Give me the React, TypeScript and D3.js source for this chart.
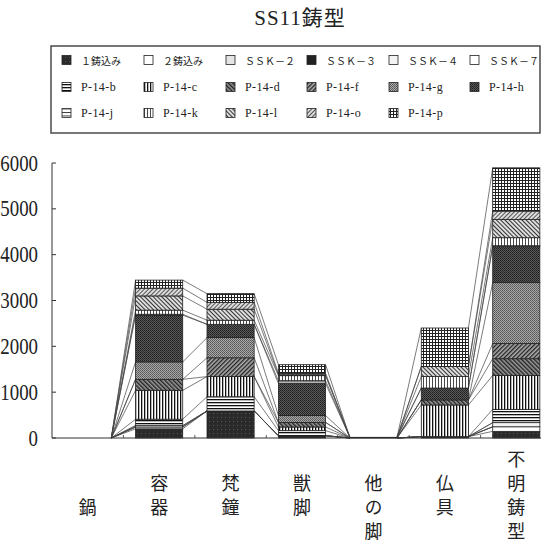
import React from 'react';
import * as d3 from 'd3';

const categories = ['鍋', '容器', '梵鐘', '獣脚', '他の脚', '仏具', '不明鋳型'];
const seriesNames = ['１鋳込み', '２鋳込み', 'ＳＳＫ－２', 'ＳＳＫ－３', 'ＳＳＫ－４', 'ＳＳＫ－７',
  'P-14-b', 'P-14-c', 'P-14-d', 'P-14-f', 'P-14-g', 'P-14-h', 'P-14-j', 'P-14-k', 'P-14-l', 'P-14-o', 'P-14-p'];
const s1 = [0, 200, 590, 50, 0, 30, 145];
const s2 = [0, 40, 0, 0, 0, 0, 100];
const ssk2 = [0, 0, 0, 0, 0, 0, 0];
const ssk3 = [0, 0, 0, 0, 0, 0, 0];
const ssk4 = [0, 30, 0, 0, 0, 0, 90];
const ssk7 = [0, 0, 0, 0, 0, 0, 0];
const p14b = [0, 140, 310, 110, 0, 0, 290];
const p14c = [0, 630, 440, 80, 0, 690, 740];
const p14d = [0, 240, 0, 100, 0, 110, 365];
const p14f = [0, 0, 410, 0, 0, 0, 330];
const p14g = [0, 380, 440, 150, 0, 0, 1330];
const p14h = [0, 1020, 290, 700, 15, 260, 785];
const p14j = [0, 20, 0, 60, 0, 0, 20];
const p14k = [0, 90, 90, 110, 0, 250, 175];
const p14l = [0, 310, 240, 20, 0, 220, 400];
const p14o = [0, 170, 150, 30, 0, 0, 180];
const p14p = [0, 175, 190, 190, 0, 840, 945];
const seriesValues = [s1, s2, ssk2, ssk3, ssk4, ssk7, p14b, p14c, p14d, p14f, p14g, p14h, p14j, p14k, p14l, p14o, p14p];
const yTicks = [0, 1000, 2000, 3000, 4000, 5000, 6000];

const patternIds = ['solidDark', 'white', 'lightGrey', 'solidDark2', 'veryLight', 'white2',
  'hb', 'vc', 'dd', 'df', 'gg', 'hh', 'hj', 'vk', 'dl', 'do', 'gp'];

function Patterns() {
  return (
    <defs>
      <pattern id="solidDark" width="4" height="4" patternUnits="userSpaceOnUse">
        <rect width="4" height="4" fill="#2a2a2a" />
        <rect x="1" y="1" width="1" height="1" fill="#555" />
      </pattern>
      <pattern id="solidDark2" width="4" height="4" patternUnits="userSpaceOnUse">
        <rect width="4" height="4" fill="#222" />
      </pattern>
      <pattern id="white" width="4" height="4" patternUnits="userSpaceOnUse">
        <rect width="4" height="4" fill="#fff" />
      </pattern>
      <pattern id="white2" width="4" height="4" patternUnits="userSpaceOnUse">
        <rect width="4" height="4" fill="#fff" />
      </pattern>
      <pattern id="lightGrey" width="4" height="4" patternUnits="userSpaceOnUse">
        <rect width="4" height="4" fill="#e4e4e4" />
      </pattern>
      <pattern id="veryLight" width="4" height="4" patternUnits="userSpaceOnUse">
        <rect width="4" height="4" fill="#f3f3f3" />
      </pattern>
      <pattern id="hb" width="4" height="3" patternUnits="userSpaceOnUse">
        <rect width="4" height="3" fill="#fff" />
        <rect y="0" width="4" height="1.3" fill="#111" />
      </pattern>
      <pattern id="hj" width="4" height="3.5" patternUnits="userSpaceOnUse">
        <rect width="4" height="3.5" fill="#fff" />
        <rect y="0" width="4" height="0.9" fill="#333" />
      </pattern>
      <pattern id="vc" width="3" height="4" patternUnits="userSpaceOnUse">
        <rect width="3" height="4" fill="#fff" />
        <rect x="0" width="1.3" height="4" fill="#111" />
      </pattern>
      <pattern id="vk" width="3" height="4" patternUnits="userSpaceOnUse">
        <rect width="3" height="4" fill="#fff" />
        <rect x="0" width="0.9" height="4" fill="#333" />
      </pattern>
      <pattern id="dd" width="3" height="3" patternUnits="userSpaceOnUse" patternTransform="rotate(-45)">
        <rect width="3" height="3" fill="#999" />
        <rect width="1.4" height="3" fill="#222" />
      </pattern>
      <pattern id="df" width="3" height="3" patternUnits="userSpaceOnUse" patternTransform="rotate(45)">
        <rect width="3" height="3" fill="#aaa" />
        <rect width="1.3" height="3" fill="#222" />
      </pattern>
      <pattern id="dl" width="3" height="3" patternUnits="userSpaceOnUse" patternTransform="rotate(-45)">
        <rect width="3" height="3" fill="#ddd" />
        <rect width="1" height="3" fill="#333" />
      </pattern>
      <pattern id="do" width="3" height="3" patternUnits="userSpaceOnUse" patternTransform="rotate(45)">
        <rect width="3" height="3" fill="#ddd" />
        <rect width="0.9" height="3" fill="#444" />
      </pattern>
      <pattern id="gg" width="2" height="2" patternUnits="userSpaceOnUse">
        <rect width="2" height="2" fill="#a8a8a8" />
        <rect width="1" height="1" fill="#555" />
        <rect x="1" y="1" width="1" height="1" fill="#666" />
      </pattern>
      <pattern id="hh" width="2" height="2" patternUnits="userSpaceOnUse">
        <rect width="2" height="2" fill="#5a5a5a" />
        <rect width="1" height="1" fill="#1e1e1e" />
        <rect x="1" y="1" width="1" height="1" fill="#2a2a2a" />
      </pattern>
      <pattern id="gp" width="3" height="3" patternUnits="userSpaceOnUse">
        <rect width="3" height="3" fill="#fff" />
        <rect width="3" height="1" fill="#222" />
        <rect width="1" height="3" fill="#222" />
      </pattern>
    </defs>
  );
}

export default function App() {
  const W = 546, H = 540;
  const x = d3.scaleBand<string>().domain(categories).range([52, 552]).paddingInner(0.34).paddingOuter(0.17);
  const y = d3.scaleLinear().domain([0, 6000]).range([438, 163]);

  const table = categories.map((c, i) => {
    const row: any = { cat: c };
    seriesNames.forEach((s, k) => { row[s] = seriesValues[k][i]; });
    return row;
  });
  const stacked = d3.stack().keys(seriesNames)(table);

  const bw = x.bandwidth();
  const step = x.step();
  const x0 = 52;

  const lines: any[] = [];
  for (let i = 0; i < categories.length - 1; i++) {
    const xa = (x(categories[i]) as number) + bw;
    const xb = x(categories[i + 1]) as number;
    stacked.forEach((layer, k) => {
      lines.push({ key: `${i}-${k}`, x1: xa, y1: y(layer[i][1]), x2: xb, y2: y(layer[i + 1][1]) });
    });
  }

  const legendCols = [62, 144, 226, 307, 389, 470];
  const legendRows = [60, 87, 113];

  const fs = 18;
  const pitch = 24;
  const catLabel = (c: string) => {
    const n = Array.from(c).length;
    const firstCenter = 507 - Math.ceil((n - 1) / 2) * pitch;
    const cx = (x(c) as number) + bw / 2;
    const ys = Array.from(c).map((_, j) => firstCenter + j * pitch - fs / 2);
    return (
      <text x={cx} y={ys.join(' ')} fontSize={fs}
        style={{ writingMode: 'vertical-rl' as any }}
        fontFamily="'Noto Sans CJK JP', sans-serif" fill="#222">{c}</text>
    );
  };

  return (
    <svg width={W} height={H} style={{ position: 'absolute', left: 0, top: 0, background: '#fff' }}
      fontFamily="'Liberation Serif', 'Noto Sans CJK JP', serif">
      <Patterns />
      <rect width={W} height={H} fill="#fff" />
      <text x={300} y={25} textAnchor="middle" fontSize={21} letterSpacing={1} fill="#222"
        fontFamily="'Liberation Serif', 'Noto Sans CJK JP', serif">SS11鋳型</text>

      <rect x={51} y={46} width={489} height={87} fill="#fff" stroke="#555" strokeWidth={1.6} />
      {seriesNames.map((s, k) => {
        const col = k % 6;
        const row = Math.floor(k / 6);
        const lx = legendCols[col];
        const ly = legendRows[row];
        const isCJK = k < 6;
        return (
          <g key={s}>
            <rect x={lx} y={ly - 4.5} width={9} height={9} fill={`url(#${patternIds[k]})`} stroke="#222" strokeWidth={0.8} />
            <text x={lx + 19} y={ly} dominantBaseline="central" fontSize={isCJK ? 10 : 12}
              letterSpacing={isCJK ? 0 : 0.4}
              fontFamily={isCJK ? "'Noto Sans CJK JP', sans-serif" : "'Liberation Serif', serif"} fill="#222">{s}</text>
          </g>
        );
      })}

      <line x1={x0} y1={y(6000)} x2={x0} y2={y(0)} stroke="#333" strokeWidth={1} />
      {yTicks.map(t => (
        <g key={t}>
          <line x1={x0} x2={x0 + 4} y1={y(t)} y2={y(t)} stroke="#333" strokeWidth={1} />
          <text x={38} y={y(t)} textAnchor="end" dominantBaseline="central" fontSize={23}
            transform={`translate(38,0) scale(0.82,1) translate(-38,0)`}
            fontFamily="'Liberation Serif', serif" fill="#222">{t}</text>
        </g>
      ))}

      {lines.map(l => (
        <line key={l.key} x1={l.x1} y1={l.y1} x2={l.x2} y2={l.y2} stroke="#444" strokeWidth={0.7} />
      ))}

      {stacked.map((layer, k) => (
        <g key={layer.key}>
          {layer.map((d, i) => {
            const h = y(d[0]) - y(d[1]);
            if (h <= 0) return null;
            return (
              <rect key={i} x={x(categories[i]) as number} y={y(d[1])} width={bw} height={h}
                fill={`url(#${patternIds[k]})`} stroke="#222" strokeWidth={0.8} />
            );
          })}
        </g>
      ))}

      <line x1={x0} x2={541} y1={y(0)} y2={y(0)} stroke="#333" strokeWidth={1} />
      {categories.map((c, i) => (
        <line key={c} x1={x0 + (i + 1) * step} x2={x0 + (i + 1) * step} y1={y(0)} y2={y(0) - 3}
          stroke="#333" strokeWidth={0.8} />
      ))}

      {categories.map(c => <g key={c}>{catLabel(c)}</g>)}
    </svg>
  );
}
